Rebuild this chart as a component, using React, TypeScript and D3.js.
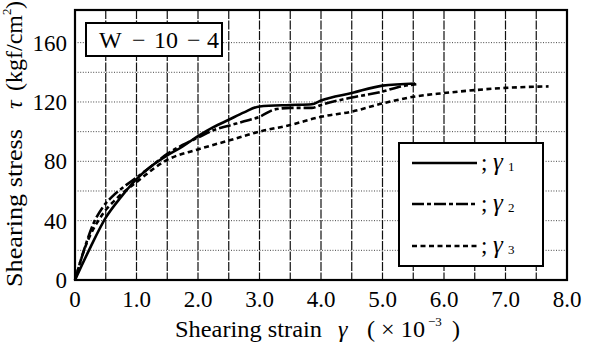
import React, { useLayoutEffect } from "react";
import * as d3 from "d3";

const xTicks = [0, 1, 2, 3, 4, 5, 6, 7, 8];
const xTickLabels = ["0", "1.0", "2.0", "3.0", "4.0", "5.0", "6.0", "7.0", "8.0"];
const yTicks = [0, 40, 80, 120, 160];
const xGrid = [0.5, 1, 1.5, 2, 2.5, 3, 3.5, 4, 4.5, 5, 5.5, 6, 6.5, 7, 7.5];
const yGrid = [20, 40, 60, 80, 100, 120, 140, 160];

const gamma1: [number, number][] = [
  [0, 0], [0.25, 22], [0.5, 42], [0.75, 56], [1.0, 68], [1.25, 77], [1.5, 84], [1.75, 90],
  [2.0, 97], [2.25, 103], [2.5, 108], [2.75, 113], [3.0, 117], [3.5, 118], [3.85, 118.5],
  [4.0, 121], [4.5, 126], [5.0, 131], [5.53, 132.5],
];
const gamma2: [number, number][] = [
  [0, 0], [0.1, 14], [0.2, 27], [0.3, 38], [0.45, 49], [0.6, 56], [0.8, 63], [1.0, 69], [1.25, 77],
  [1.5, 85], [1.75, 91], [2.0, 96], [2.25, 101], [2.5, 104], [2.75, 107], [3.0, 110],
  [3.25, 115], [3.5, 116], [3.85, 116], [4.0, 118], [4.5, 123], [5.0, 127], [5.25, 130], [5.55, 132],
];
const gamma3: [number, number][] = [
  [0, 0], [0.13, 18], [0.46, 45], [0.68, 55], [1.0, 66], [1.5, 81], [2.0, 88], [2.5, 94],
  [3.0, 100], [3.5, 104.5], [4.0, 110], [4.5, 113.5], [5.0, 119], [5.5, 123.5], [6.0, 126],
  [6.5, 128], [7.0, 129.5], [7.7, 130.5],
];

const seriesNames = ["1", "2", "3"];
const dashes = [null, "12 3 4 3", "5 3.5"];

const serif = "Liberation Serif";

function T(props: any) {
  const { children, style, ...rest } = props;
  return (
    <text fontFamily={serif} style={{ fontFamily: serif, ...(style || {}) }} {...rest}>{children}</text>
  );
}

export default function App() {
  useLayoutEffect(() => {
    document.body.style.margin = "0";
  }, []);
  const W = 589, H = 349;
  const x = d3.scaleLinear().domain([0, 8]).range([75, 567]);
  const y = d3.scaleLinear().domain([0, 182]).range([280, 10]);
  const line = d3.line<[number, number]>().x(d => x(d[0])).y(d => y(d[1])).curve(d3.curveMonotoneX);
  const data = [gamma1, gamma2, gamma3];
  const legY = [163, 204, 246];

  return (
    <svg width={W} height={H} fontFamily={serif}
      style={{ display: "block", background: "#fff", fontFamily: serif }}>
      <style>{`text, tspan { font-family: "Liberation Serif", serif; }`}</style>
      <rect x={0} y={0} width={W} height={H} fill="#fff" />
      {yGrid.map(v => (
        <line key={"h" + v} x1={x(0)} x2={x(8)} y1={y(v)} y2={y(v)} stroke="#444" strokeWidth={1} strokeDasharray="1 1.6" />
      ))}
      {xGrid.map(v => (
        <line key={"v" + v} x1={x(v)} x2={x(v)} y1={y(182)} y2={y(0)} stroke="#111" strokeWidth={1.2} strokeDasharray="9 1.5" />
      ))}
      {data.map((d, i) => (
        <path key={i} d={line(d) || ""} fill="none" stroke="#000" strokeWidth={2.6}
          strokeDasharray={dashes[i] || undefined} />
      ))}
      <rect x={x(0)} y={y(182)} width={x(8) - x(0)} height={y(0) - y(182)} fill="none" stroke="#000" strokeWidth={2.2} />
      <rect x={86} y={23} width={136} height={33} fill="#fff" stroke="#000" strokeWidth={2} />
      <T x={99} y={48} fontSize={24}>W</T>
      <T x={132} y={48} fontSize={24}>−</T>
      <T x={154} y={48} fontSize={24} textLength={24} lengthAdjust="spacingAndGlyphs">10</T>
      <T x={187} y={48} fontSize={24}>−</T>
      <T x={207} y={48} fontSize={24}>4</T>
      <rect x={399} y={143} width={144} height={123} fill="#fff" stroke="#000" strokeWidth={2} />
      {seriesNames.map((n, i) => (
        <g key={n}>
          <line x1={412} x2={477} y1={legY[i]} y2={legY[i]} stroke="#000" strokeWidth={2.6}
            strokeDasharray={dashes[i] || undefined} />
          <T x={481} y={legY[i] + 7} fontSize={23}>;</T>
          <T x={493} y={legY[i] + 7} fontSize={25} fontStyle="italic">γ</T>
          <T x={508} y={legY[i] + 8} fontSize={13}>{n}</T>
        </g>
      ))}
      {xTicks.map((v, i) => (
        <T key={"xt" + v} x={x(v)} y={307} fontSize={23} textAnchor="middle">{xTickLabels[i]}</T>
      ))}
      {yTicks.map(v => (
        <T key={"yt" + v} x={67} y={y(v) + 8} fontSize={23} textAnchor="end">{v}</T>
      ))}
      <T x={175} y={337} fontSize={24} textLength={147} lengthAdjust="spacingAndGlyphs">Shearing strain</T>
      <T x={338} y={337} fontSize={24} fontStyle="italic">γ</T>
      <T x={367} y={337} fontSize={24} textLength={58} lengthAdjust="spacingAndGlyphs">( × 10</T>
      <T x={428} y={326} fontSize={13}>−3</T>
      <T x={452} y={337} fontSize={24}>)</T>
      <g transform="translate(22,0) rotate(-90)">
        <T x={-287} y={0} fontSize={24} textLength={158} lengthAdjust="spacingAndGlyphs">Shearing stress</T>
        <T x={-109} y={0} fontSize={24} fontStyle="italic">τ</T>
        <T x={-91} y={0} fontSize={24} textLength={76} lengthAdjust="spacingAndGlyphs">(kgf/cm</T>
        <T x={-15} y={-11} fontSize={13}>2</T>
        <T x={-9} y={0} fontSize={24}>)</T>
      </g>
    </svg>
  );
}
